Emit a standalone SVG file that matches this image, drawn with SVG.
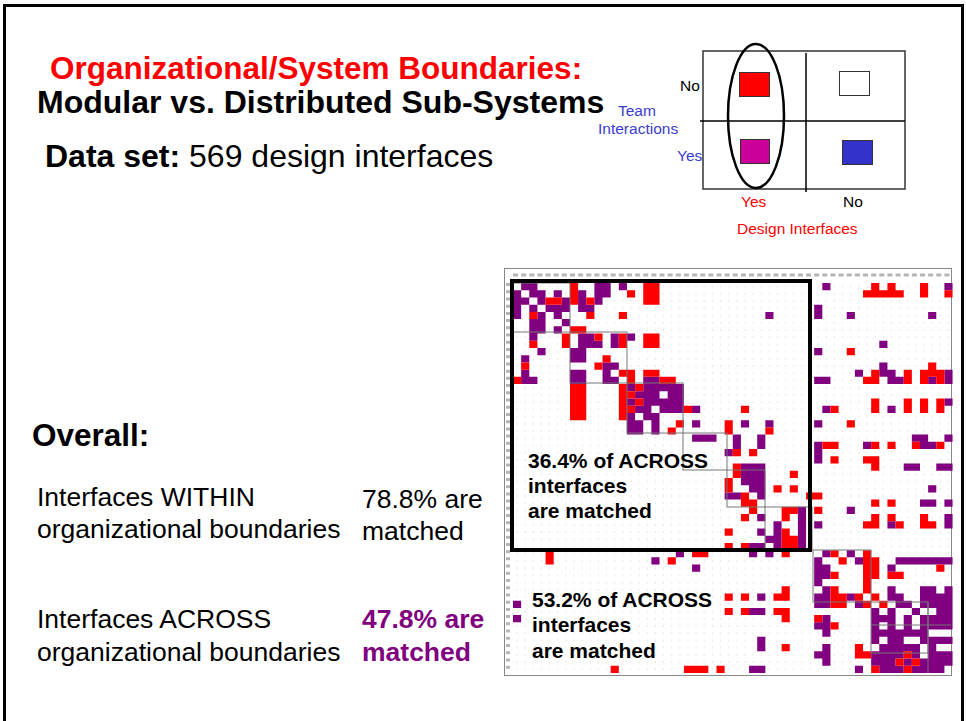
<svg xmlns="http://www.w3.org/2000/svg" width="966" height="721" viewBox="0 0 966 721">
<style>
.t{font-family:"Liberation Sans",Arial,sans-serif}
.b{font-weight:bold}
.lg{font-family:"Liberation Sans",Arial,sans-serif;font-size:15.5px}
.blk{fill:none;stroke:#777;stroke-width:1}
</style>
<defs>
<pattern id="dots" x="513" y="283" width="8.14" height="7.22" patternUnits="userSpaceOnUse">
<circle cx="4" cy="3.6" r="0.6" fill="#d6d6d6"/>
</pattern>
</defs>
<rect width="966" height="721" fill="#fff"/>
<rect x="4.5" y="5.5" width="958" height="740" fill="none" stroke="#000" stroke-width="3"/>

<g id="title">
<text class="t b" x="50" y="79" font-size="31.5" fill="#FF0000">Organizational/System Boundaries:</text>
<text class="t b" x="37" y="113" font-size="32" fill="#000">Modular vs. Distributed Sub-Systems</text>
<text class="t" x="45" y="167" font-size="32" fill="#000"><tspan class="b">Data set:</tspan> 569 design interfaces</text>
</g>

<g id="legend">
<rect x="703" y="51" width="202" height="138" fill="none" stroke="#333" stroke-width="1.5"/>
<line x1="700" y1="121" x2="905" y2="121" stroke="#000" stroke-width="1.5"/>
<line x1="806" y1="53" x2="806" y2="192" stroke="#000" stroke-width="1.5"/>
<rect x="739.5" y="72.5" width="30" height="24" fill="#FF0000" stroke="#333"/>
<rect x="839.5" y="71.5" width="30" height="24" fill="#fff" stroke="#333"/>
<rect x="740.5" y="139.5" width="29" height="24" fill="#CC0099" stroke="#333"/>
<rect x="842.5" y="140.5" width="30" height="24" fill="#3333CC" stroke="#333"/>
<ellipse cx="756" cy="116" rx="28" ry="72" fill="none" stroke="#000" stroke-width="2.5"/>
<text class="lg" x="680" y="91" fill="#000">No</text>
<text class="lg" x="618" y="116" fill="#3B3BCF">Team</text>
<text class="lg" x="598" y="134" fill="#3B3BCF">Interactions</text>
<text class="lg" x="677" y="161" fill="#3B3BCF">Yes</text>
<text class="lg" x="741" y="207" fill="#FF0000">Yes</text>
<text class="lg" x="843" y="207" fill="#000">No</text>
<text class="lg" x="737" y="234" fill="#FF0000">Design Interfaces</text>
</g>

<g id="overall">
<text class="t b" x="32" y="446" font-size="31.5" fill="#000">Overall:</text>
<text class="t" x="37" y="506" font-size="26.5" fill="#000">Interfaces WITHIN</text>
<text class="t" x="37" y="538" font-size="26.5" fill="#000">organizational boundaries</text>
<text class="t" x="362" y="508" font-size="26.5" fill="#000">78.8% are</text>
<text class="t" x="362" y="540" font-size="26.5" fill="#000">matched</text>
<text class="t" x="37" y="628" font-size="26.5" fill="#000">Interfaces ACROSS</text>
<text class="t" x="37" y="661" font-size="26.5" fill="#000">organizational boundaries</text>
<text class="t b" x="362" y="628" font-size="26.5" fill="#800080">47.8% are</text>
<text class="t b" x="362" y="661" font-size="26.5" fill="#800080">matched</text>
</g>

<g id="matrix">
<rect x="504.5" y="268.5" width="447" height="407" fill="#fff" stroke="#888" stroke-width="1"/>
<line x1="513" y1="275" x2="951" y2="275" stroke="#b5b5b5" stroke-width="3" stroke-dasharray="5 3.14"/>
<line x1="508" y1="283" x2="508" y2="673" stroke="#b5b5b5" stroke-width="4" stroke-dasharray="3 4.22"/>
<rect x="513" y="283" width="438" height="390" fill="url(#dots)"/>
<g transform="translate(513 283) scale(8.14 7.22)">
<path fill="#800080" d="M1 0h2v1h-2zM10 0h2v1h-2zM13 0h1v1h-1zM38 0h1v1h-1zM53 0h1v1h-1z
M0 1h1v1h-1zM2 1h2v1h-2zM5 1h1v1h-1zM8 1h1v1h-1zM10 1h2v1h-2z
M0 2h2v1h-2zM3 2h1v1h-1zM6 2h1v1h-1zM8 2h1v1h-1zM10 2h1v1h-1z
M0 3h1v1h-1zM2 3h1v1h-1zM4 3h3v1h-3zM8 3h2v1h-2zM37 3h1v1h-1z
M0 4h1v1h-1zM3 4h1v1h-1zM5 4h1v1h-1zM31 4h1v1h-1zM37 4h1v1h-1zM41 4h1v1h-1zM51 4h1v1h-1z
M2 5h2v1h-2zM6 5h1v1h-1z
M2 6h2v1h-2zM5 6h1v1h-1z
M2 7h1v1h-1zM8 7h2v1h-2zM12 7h1v1h-1zM14 7h1v1h-1z
M8 8h3v1h-3zM12 8h1v1h-1zM45 8h1v1h-1z
M3 9h1v1h-1zM7 9h2v1h-2zM37 9h1v1h-1z
M1 10h1v1h-1zM7 10h2v1h-2z
M11 11h2v1h-2zM45 11h1v1h-1z
M1 12h1v1h-1zM7 12h2v1h-2zM11 12h1v1h-1zM42 12h1v1h-1zM45 12h2v1h-2zM53 12h1v1h-1z
M1 13h2v1h-2zM7 13h2v1h-2zM11 13h2v1h-2zM16 13h2v1h-2zM37 13h2v1h-2zM46 13h2v1h-2zM51 13h1v1h-1zM53 13h1v1h-1z
M14 14h1v1h-1zM16 14h5v1h-5z
M15 15h3v1h-3zM19 15h2v1h-2z
M14 16h1v1h-1zM16 16h5v1h-5zM53 16h1v1h-1z
M15 17h2v1h-2zM18 17h3v1h-3zM22 17h1v1h-1zM38 17h1v1h-1zM46 17h1v1h-1z
M14 18h1v1h-1zM16 18h2v1h-2z
M14 19h2v1h-2zM17 19h1v1h-1zM22 19h1v1h-1zM28 19h1v1h-1zM31 19h1v1h-1zM37 19h1v1h-1z
M14 20h2v1h-2zM17 20h1v1h-1z
M22 21h3v1h-3zM27 21h1v1h-1zM30 21h1v1h-1zM49 21h2v1h-2zM53 21h1v1h-1z
M27 22h1v1h-1zM30 22h1v1h-1zM37 22h1v1h-1zM43 22h1v1h-1zM50 22h2v1h-2z
M26 23h1v1h-1zM37 23h1v1h-1z
M37 24h1v1h-1z
M28 25h3v1h-3zM48 25h2v1h-2zM52 25h2v1h-2z
M28 26h3v1h-3z
M28 27h3v1h-3z
M29 28h2v1h-2zM51 28h1v1h-1z
M26 29h2v1h-2zM30 29h1v1h-1z
M50 30h2v1h-2zM53 30h1v1h-1z
M35 31h1v1h-1zM41 31h1v1h-1z
M30 32h1v1h-1zM35 32h1v1h-1zM53 32h1v1h-1z
M32 33h1v1h-1zM35 33h1v1h-1zM37 33h1v1h-1zM46 33h1v1h-1zM53 33h1v1h-1z
M30 34h1v1h-1zM32 34h1v1h-1zM35 34h1v1h-1z
M31 35h2v1h-2zM35 35h1v1h-1z
M29 36h2v1h-2zM32 36h1v1h-1zM35 36h1v1h-1z
M20 37h1v1h-1zM29 37h1v1h-1zM31 37h1v1h-1zM38 37h1v1h-1zM41 37h1v1h-1z
M17 38h1v1h-1zM37 38h1v1h-1zM42 38h1v1h-1zM47 38h7v1h-7z
M22 39h1v1h-1zM37 39h2v1h-2zM46 39h1v1h-1z
M37 40h2v1h-2z
M37 41h1v1h-1z
M38 42h1v1h-1zM46 42h1v1h-1zM50 42h2v1h-2zM53 42h1v1h-1z
M30 43h1v1h-1zM37 43h2v1h-2zM41 43h1v1h-1zM46 43h2v1h-2zM50 43h4v1h-4z
M0 44h1v1h-1zM37 44h2v1h-2zM42 44h1v1h-1zM47 44h2v1h-2zM50 44h4v1h-4z
M29 45h2v1h-2zM44 45h1v1h-1zM46 45h1v1h-1zM49 45h1v1h-1zM52 45h2v1h-2z
M0 46h1v1h-1zM38 46h1v1h-1zM44 46h3v1h-3zM48 46h1v1h-1zM50 46h4v1h-4z
M37 47h2v1h-2zM44 47h1v1h-1zM46 47h1v1h-1zM48 47h1v1h-1zM50 47h4v1h-4z
M38 48h1v1h-1zM44 48h7v1h-7z
M30 49h1v1h-1zM44 49h1v1h-1zM46 49h2v1h-2zM50 49h4v1h-4z
M30 50h1v1h-1zM38 50h1v1h-1zM45 50h5v1h-5zM51 50h1v1h-1z
M37 51h2v1h-2zM44 51h4v1h-4zM49 51h1v1h-1zM51 51h3v1h-3z
M38 52h1v1h-1zM44 52h3v1h-3zM48 52h1v1h-1zM50 52h4v1h-4z
M29 53h2v1h-2zM42 53h1v1h-1zM45 53h3v1h-3zM49 53h4v1h-4z"/>
<path fill="#FF0000" d="M7 0h1v1h-1zM16 0h2v1h-2zM44 0h1v1h-1zM46 0h1v1h-1zM50 0h1v1h-1z
M7 1h1v1h-1zM14 1h1v1h-1zM16 1h2v1h-2zM43 1h5v1h-5zM50 1h1v1h-1zM53 1h1v1h-1z
M4 2h2v1h-2zM7 2h1v1h-1zM9 2h1v1h-1zM16 2h2v1h-2z
M2 4h1v1h-1zM9 4h1v1h-1zM13 4h1v1h-1z
M7 6h2v1h-2z
M6 7h1v1h-1zM10 7h1v1h-1zM13 7h1v1h-1zM16 7h2v1h-2z
M2 8h1v1h-1zM6 8h1v1h-1zM13 8h1v1h-1zM16 8h2v1h-2z
M41 9h1v1h-1z
M11 10h1v1h-1z
M1 11h1v1h-1zM10 11h1v1h-1zM51 11h1v1h-1z
M13 12h2v1h-2zM16 12h2v1h-2zM44 12h1v1h-1zM48 12h1v1h-1zM50 12h3v1h-3z
M0 13h1v1h-1zM14 13h1v1h-1zM18 13h2v1h-2zM43 13h2v1h-2zM48 13h1v1h-1zM50 13h1v1h-1zM52 13h1v1h-1z
M7 14h2v1h-2zM13 14h1v1h-1zM15 14h1v1h-1z
M7 15h2v1h-2zM13 15h2v1h-2z
M7 16h2v1h-2zM13 16h1v1h-1zM15 16h1v1h-1zM44 16h1v1h-1zM48 16h1v1h-1zM50 16h1v1h-1zM52 16h1v1h-1z
M7 17h2v1h-2zM13 17h2v1h-2zM21 17h1v1h-1zM28 17h1v1h-1zM39 17h1v1h-1zM44 17h1v1h-1zM48 17h1v1h-1zM50 17h1v1h-1zM52 17h1v1h-1z
M7 18h2v1h-2zM13 18h1v1h-1z
M20 19h1v1h-1zM26 19h1v1h-1zM41 19h1v1h-1z
M19 20h1v1h-1zM26 20h1v1h-1zM31 20h1v1h-1z
M38 22h2v1h-2zM44 22h1v1h-1zM46 22h1v1h-1zM49 22h1v1h-1zM52 22h1v1h-1z
M27 23h1v1h-1zM29 23h1v1h-1z
M39 24h1v1h-1zM43 24h2v1h-2z
M27 25h1v1h-1zM44 25h1v1h-1z
M27 26h1v1h-1zM34 26h1v1h-1z
M26 27h1v1h-1z
M26 28h1v1h-1zM32 28h1v1h-1zM34 28h1v1h-1z
M28 29h1v1h-1zM36 29h2v1h-2z
M28 30h2v1h-2zM44 30h1v1h-1zM46 30h1v1h-1z
M29 31h1v1h-1zM33 31h2v1h-2zM37 31h1v1h-1z
M28 32h1v1h-1zM33 32h1v1h-1zM44 32h1v1h-1zM46 32h1v1h-1zM50 32h1v1h-1z
M43 33h2v1h-2zM47 33h1v1h-1zM50 33h2v1h-2z
M26 34h1v1h-1zM33 34h1v1h-1z
M33 35h2v1h-2z
M26 36h1v1h-1zM28 36h1v1h-1zM33 36h2v1h-2z
M4 37h1v1h-1zM22 37h2v1h-2zM33 37h1v1h-1zM39 37h1v1h-1zM43 37h1v1h-1z
M4 38h1v1h-1zM19 38h1v1h-1zM40 38h1v1h-1zM43 38h2v1h-2z
M43 39h2v1h-2zM52 39h1v1h-1z
M39 40h1v1h-1zM43 40h2v1h-2zM46 40h2v1h-2z
M43 41h1v1h-1z
M33 42h1v1h-1zM39 42h1v1h-1zM43 42h1v1h-1z
M26 43h1v1h-1zM28 43h1v1h-1zM32 43h2v1h-2zM39 43h2v1h-2zM42 43h1v1h-1zM44 43h1v1h-1z
M39 44h2v1h-2zM43 44h1v1h-1zM45 44h1v1h-1z
M26 45h1v1h-1zM28 45h1v1h-1zM32 45h2v1h-2z
M33 46h1v1h-1zM37 46h1v1h-1z
M39 47h1v1h-1z
M33 50h1v1h-1zM42 50h1v1h-1z
M42 51h2v1h-2zM48 51h1v1h-1z
M47 52h1v1h-1zM49 52h1v1h-1z
M12 53h1v1h-1zM21 53h3v1h-3zM25 53h1v1h-1zM44 53h1v1h-1zM48 53h1v1h-1z"/>
</g>
<rect class="blk" x="513" y="283" width="57" height="49"/>
<rect class="blk" x="570" y="332" width="57" height="51"/>
<rect class="blk" x="627" y="383" width="56" height="50"/>
<rect class="blk" x="683" y="433" width="44" height="37"/>
<rect class="blk" x="727" y="470" width="38" height="37"/>
<rect class="blk" x="765" y="507" width="47" height="43"/>
<rect class="blk" x="813" y="550" width="58" height="52"/>
<rect class="blk" x="871" y="602" width="57" height="51"/>
<line class="blk" x1="871" y1="625" x2="951" y2="625"/>
<line class="blk" x1="928" y1="602" x2="928" y2="673"/>
<rect x="512" y="281" width="298" height="269" fill="none" stroke="#000" stroke-width="4"/>
<text class="t b" x="528" y="468" font-size="21" fill="#000">36.4% of ACROSS</text>
<text class="t b" x="528" y="493" font-size="21" fill="#000">interfaces</text>
<text class="t b" x="528" y="518" font-size="21" fill="#000">are matched</text>
<text class="t b" x="532" y="607" font-size="21" fill="#000">53.2% of ACROSS</text>
<text class="t b" x="532" y="632" font-size="21" fill="#000">interfaces</text>
<text class="t b" x="532" y="658" font-size="21" fill="#000">are matched</text>
</g>
</svg>
